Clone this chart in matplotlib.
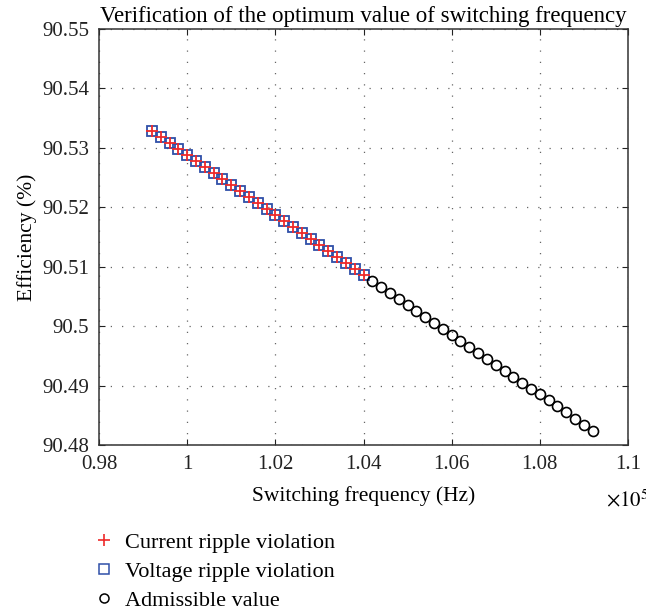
import matplotlib
matplotlib.use('Agg')
import matplotlib.pyplot as plt
from matplotlib.lines import Line2D
from matplotlib.ticker import FuncFormatter

plt.rcParams['font.family'] = ['Liberation Serif', 'DejaVu Serif']

# switching frequency (Hz) and efficiency (%)
freq_viol = [99200, 99400, 99600, 99800, 100000, 100200, 100400, 100600, 100800, 101000,
             101200, 101400, 101600, 101800, 102000, 102200, 102400, 102600, 102800, 103000,
             103200, 103400, 103600, 103800, 104000]
eff_viol = [90.5328, 90.5318, 90.5308, 90.5298, 90.5288, 90.5278, 90.5268, 90.5257, 90.5247, 90.5237,
            90.5227, 90.5217, 90.5207, 90.5197, 90.5187, 90.5177, 90.5167, 90.5157, 90.5147, 90.5137,
            90.5126, 90.5116, 90.5106, 90.5096, 90.5086]
freq_ok = [104200, 104400, 104600, 104800, 105000, 105200, 105400, 105600, 105800, 106000,
           106200, 106400, 106600, 106800, 107000, 107200, 107400, 107600, 107800, 108000,
           108200, 108400, 108600, 108800, 109000, 109200]
eff_ok = [90.5076, 90.5066, 90.5056, 90.5046, 90.5036, 90.5026, 90.5016, 90.5006, 90.4995, 90.4985,
          90.4975, 90.4965, 90.4955, 90.4945, 90.4935, 90.4925, 90.4915, 90.4905, 90.4895, 90.4885,
          90.4875, 90.4865, 90.4855, 90.4844, 90.4834, 90.4824]

xticks = [0.98, 1.0, 1.02, 1.04, 1.06, 1.08, 1.1]
yticks = [90.48, 90.49, 90.50, 90.51, 90.52, 90.53, 90.54, 90.55]

fig = plt.figure(figsize=(6.46, 6.13), dpi=100)
ax = fig.add_axes([99/646, 1-445/613, 529/646, 416/613])

xv = [f/1e5 for f in freq_viol]
xo = [f/1e5 for f in freq_ok]
ax.plot(xv, eff_viol, 's', ms=7.5, mfc='none', mec='#2f4fa8', mew=1.3, zorder=3)
ax.plot(xv, eff_viol, '+', ms=8, color='#ee2a2a', mew=1.3, zorder=4)
ax.plot(xo, eff_ok, 'o', ms=7.2, mfc='none', mec='black', mew=1.2, zorder=3)

ax.set_xlim(0.98, 1.1)
ax.set_ylim(90.48, 90.55)
ax.set_xticks(xticks)
ax.set_yticks(yticks)
fmt = FuncFormatter(lambda v, p: '%g' % round(v, 4))
ax.xaxis.set_major_formatter(fmt)
ax.yaxis.set_major_formatter(fmt)
ax.tick_params(direction='in', top=True, right=True, length=4, width=0.8,
               labelsize=15, colors='#222222')
ax.tick_params(axis='x', pad=7)
ax.tick_params(axis='y', pad=7)
ax.grid(True, linestyle=(0, (1, 8)), color='#666666', linewidth=0.9)
for s in ax.spines.values():
    s.set_color('#333333')
    s.set_linewidth(1.1)

ax.set_title('Verification of the optimum value of switching frequency', fontsize=16.5, pad=5)
ax.set_xlabel('Switching frequency (Hz)', fontsize=15.5, labelpad=9)
ax.set_ylabel('Efficiency (%)', fontsize=15.5, labelpad=4)
ax.text(0.958, -0.133, r'$\times10^5$', transform=ax.transAxes, fontsize=15,
        ha='left', va='center', math_fontfamily='stix')

handles = [Line2D([], [], ls='none', marker='+', color='#ee2a2a', ms=8, mew=1.2),
           Line2D([], [], ls='none', marker='s', mfc='none', mec='#2f4fa8', ms=7, mew=1.1),
           Line2D([], [], ls='none', marker='o', mfc='none', mec='black', ms=6.5, mew=1.1)]
labels = ['Current ripple violation', 'Voltage ripple violation', 'Admissible value']
fig.legend(handles, labels, loc='upper left', bbox_to_anchor=(82/646, 1-521/613),
           frameon=False, fontsize=16, handlelength=1.0, handletextpad=0.45,
           labelspacing=0.38, borderpad=0)

fig.savefig('out.png', dpi=100)
